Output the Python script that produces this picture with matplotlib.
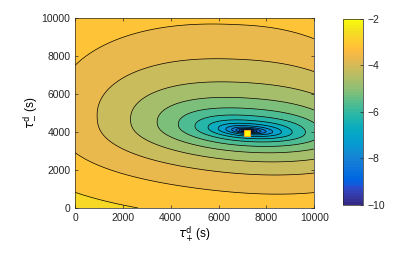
import numpy as np
import matplotlib
matplotlib.use("Agg")
import matplotlib.pyplot as plt
from matplotlib.colors import ListedColormap, Normalize
from matplotlib.cm import ScalarMappable

# position of the misfit minimum (s)
tau_plus_best = 7200
tau_minus_best = 3950

# contour levels of log10(misfit) and axis ticks
levels = np.arange(-10.5, -1.75, 0.5)
cbar_ticks = [-10, -8, -6, -4, -2]
axis_ticks = [0, 2000, 4000, 6000, 8000, 10000]

# misfit model (distances in units of 1000 s)
# profile along tau+ (left of the minimum): floor + A r^3.5 + B r^5
floor = 4e-11
prof_coef, prof_pow = [4e-8, 7.7e-9], [3.5, 5]
shear, shear_width = 0.15, 1.5      # valley bends upwards to the left
right_scale = [1.25, -0.062, 0.6]   # right half-width / r = a + b r (min c)
up_ratio = [0.25, 0.055]            # half-height / r = a + b r
down_ratio = [0.2, 0.026]
up_exp = 2
down_exp = [2.0, 0.12, 3.2]         # lower half gets flatter further out

# MATLAB parula
parula = [
    (0.2081, 0.1663, 0.5292), (0.2116, 0.1898, 0.5777), (0.2123, 0.2138, 0.6270),
    (0.2081, 0.2386, 0.6771), (0.1959, 0.2645, 0.7279), (0.1707, 0.2919, 0.7792),
    (0.1253, 0.3242, 0.8303), (0.0591, 0.3598, 0.8683), (0.0117, 0.3875, 0.8820),
    (0.0060, 0.4086, 0.8828), (0.0165, 0.4266, 0.8786), (0.0329, 0.4430, 0.8720),
    (0.0498, 0.4586, 0.8641), (0.0629, 0.4737, 0.8554), (0.0723, 0.4887, 0.8467),
    (0.0779, 0.5040, 0.8384), (0.0793, 0.5200, 0.8312), (0.0749, 0.5375, 0.8263),
    (0.0641, 0.5570, 0.8240), (0.0488, 0.5772, 0.8228), (0.0343, 0.5966, 0.8199),
    (0.0265, 0.6137, 0.8135), (0.0239, 0.6287, 0.8038), (0.0231, 0.6418, 0.7913),
    (0.0228, 0.6535, 0.7768), (0.0267, 0.6642, 0.7607), (0.0384, 0.6743, 0.7436),
    (0.0590, 0.6838, 0.7254), (0.0843, 0.6928, 0.7062), (0.1133, 0.7015, 0.6859),
    (0.1453, 0.7098, 0.6646), (0.1801, 0.7177, 0.6424), (0.2178, 0.7250, 0.6193),
    (0.2586, 0.7317, 0.5954), (0.3022, 0.7376, 0.5712), (0.3482, 0.7424, 0.5473),
    (0.3953, 0.7459, 0.5244), (0.4420, 0.7481, 0.5033), (0.4871, 0.7491, 0.4840),
    (0.5300, 0.7491, 0.4661), (0.5709, 0.7485, 0.4494), (0.6099, 0.7473, 0.4337),
    (0.6473, 0.7456, 0.4188), (0.6834, 0.7435, 0.4044), (0.7184, 0.7411, 0.3905),
    (0.7525, 0.7384, 0.3768), (0.7858, 0.7356, 0.3633), (0.8185, 0.7327, 0.3498),
    (0.8507, 0.7299, 0.3360), (0.8824, 0.7274, 0.3217), (0.9139, 0.7258, 0.3063),
    (0.9450, 0.7261, 0.2886), (0.9739, 0.7314, 0.2666), (0.9938, 0.7455, 0.2403),
    (0.9990, 0.7653, 0.2164), (0.9955, 0.7861, 0.1967), (0.9880, 0.8066, 0.1794),
    (0.9789, 0.8271, 0.1633), (0.9697, 0.8481, 0.1475), (0.9626, 0.8705, 0.1309),
    (0.9589, 0.8949, 0.1132), (0.9598, 0.9218, 0.0948), (0.9661, 0.9514, 0.0755),
    (0.9763, 0.9831, 0.0538)]
cmap = ListedColormap(parula)

tp = np.linspace(0, 10000, 401)
tm = np.linspace(0, 10000, 401)
TP, TM = np.meshgrid(tp, tm)
du = (TP - tau_plus_best) / 1000
bend = shear * (du - np.sqrt(du ** 2 + shear_width ** 2)) / 2
dv = (TM - tau_minus_best) / 1000 + bend
upper = dv > 0
ra = np.where(upper, up_ratio[0], down_ratio[0])
rb = np.where(upper, up_ratio[1], down_ratio[1])


def egg(r):
    # >1 outside the egg-shaped contour of size r, <1 inside
    sx = np.where(du < 0, r, r * np.maximum(right_scale[0] + right_scale[1] * r, right_scale[2]))
    q = np.where(upper, up_exp, np.minimum(down_exp[0] + down_exp[1] * r, down_exp[2]))
    return np.abs(du / sx) ** q + np.abs(dv / (r * (ra + rb * r))) ** q


# solve egg(r) = 1 for r at every grid point (log bisection)
lo = np.full(du.shape, -5.0)
hi = np.full(du.shape, np.log(25.0))
for _ in range(60):
    mid = 0.5 * (lo + hi)
    outside = egg(np.exp(mid)) > 1
    lo = np.where(outside, mid, lo)
    hi = np.where(outside, hi, mid)
r = np.exp(0.5 * (lo + hi))
misfit = np.log10(floor + sum(c * r ** p for c, p in zip(prof_coef, prof_pow)))

plt.rcParams["font.family"] = ["Liberation Sans", "DejaVu Sans"]
plt.rcParams["font.size"] = 7.5

fig = plt.figure(figsize=(4.15, 2.6), dpi=100)
ax = fig.add_axes([0.181, 0.2, 0.576, 0.731])
norm = Normalize(vmin=-10, vmax=-2)
ax.contourf(TP, TM, misfit, levels=levels, cmap=cmap, norm=norm, extend="both")
ax.contour(TP, TM, misfit, levels=levels, colors="k", linewidths=0.5, linestyles="solid")
ax.plot(tau_plus_best, tau_minus_best, "s", ms=4.5, mfc="#ffff00", mec="#f5a623", mew=0.8)

ax.set_xlim(0, 10000)
ax.set_ylim(0, 10000)
ax.set_xticks(axis_ticks)
ax.set_yticks(axis_ticks)
ax.tick_params(direction="in", length=2.5, width=0.5, colors="#262626",
               labelcolor="#262626", top=True, right=True)
for s in ax.spines.values():
    s.set_color("#262626")
    s.set_linewidth(0.5)
ax.set_xlabel(r"$\tau^{\rm d}_{+}$ (s)", fontsize=8.5, labelpad=1)
ax.set_ylabel(r"$\tau^{\rm d}_{-}$ (s)", fontsize=8.5, labelpad=1)

cax = fig.add_axes([0.827, 0.212, 0.048, 0.715])
cb = fig.colorbar(ScalarMappable(norm=norm, cmap=cmap), cax=cax, ticks=cbar_ticks)
cb.ax.tick_params(direction="in", length=2.5, width=0.5, colors="#262626")
cb.outline.set_linewidth(0.5)
cb.outline.set_edgecolor("#262626")

fig.savefig("out.png", dpi=100)
